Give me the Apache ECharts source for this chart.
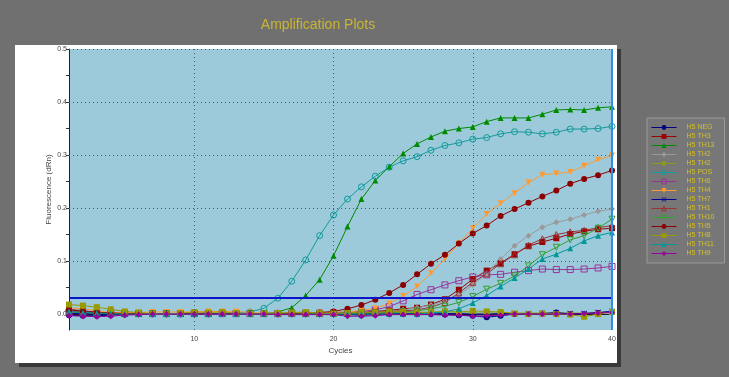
<!DOCTYPE html>
<html>
<head>
<meta charset="utf-8">
<script src="https://cdn.jsdelivr.net/npm/echarts@6/dist/echarts.min.js"></script>
<style>
  html, body { margin: 0; padding: 0; background: #707070; }
  #chart { width: 729px; height: 377px; }
</style>
</head>
<body>
<div id="chart"></div>
<script>
var cycles = [1, 2, 3, 4, 5, 6, 7, 8, 9, 10, 11, 12, 13, 14, 15, 16, 17, 18, 19, 20,
  21, 22, 23, 24, 25, 26, 27, 28, 29, 30, 31, 32, 33, 34, 35, 36, 37, 38, 39, 40];

var yLabels = [0, 0.1, 0.2, 0.3, 0.4, 0.5];
var yTicks = [0, 0.05, 0.1, 0.15, 0.2, 0.25, 0.3, 0.35, 0.4, 0.45, 0.5];
var xGrid = [10, 20, 30];
var threshold = 0.032;

var h5Neg = [-0.002, -0.003, -0.003, -0.002, -0.001, 0.000, 0.000, 0.000, 0.000, 0.000,
  0.000, 0.000, 0.000, 0.000, 0.000, 0.000, 0.000, 0.000, 0.000, 0.000,
  -0.001, -0.002, -0.001, 0.000, 0.000, 0.000, 0.000, -0.001, -0.002, -0.003,
  -0.006, -0.003, 0.000, 0.000, 0.001, 0.003, 0.000, -0.001, 0.002, 0.005];
var h5Th3 = [0.009, 0.006, 0.004, 0.002, 0.001, 0.001, 0.001, 0.001, 0.001, 0.001,
  0.001, 0.001, 0.001, 0.001, 0.001, 0.001, 0.001, 0.002, 0.002, 0.002,
  0.003, 0.003, 0.005, 0.007, 0.010, 0.012, 0.018, 0.028, 0.046, 0.066,
  0.082, 0.096, 0.113, 0.128, 0.136, 0.143, 0.151, 0.156, 0.160, 0.162];
var h5Th13 = [0.003, 0.002, 0.001, 0.001, 0.000, 0.000, 0.000, 0.000, 0.000, 0.000,
  0.000, 0.000, 0.000, 0.001, 0.001, 0.004, 0.012, 0.035, 0.065, 0.110,
  0.165, 0.217, 0.252, 0.278, 0.303, 0.321, 0.334, 0.345, 0.350, 0.353,
  0.363, 0.370, 0.370, 0.370, 0.377, 0.385, 0.386, 0.385, 0.389, 0.391];
var h5Th2 = [0.004, 0.003, 0.002, 0.001, 0.001, 0.001, 0.001, 0.001, 0.001, 0.001,
  0.001, 0.001, 0.001, 0.001, 0.001, 0.001, 0.001, 0.001, 0.002, 0.002,
  0.002, 0.002, 0.003, 0.005, 0.008, 0.012, 0.017, 0.025, 0.036, 0.055,
  0.077, 0.104, 0.129, 0.148, 0.164, 0.173, 0.179, 0.187, 0.194, 0.198];
var h5Th2b = [0.003, 0.002, 0.002, 0.001, 0.001, 0.001, 0.001, 0.001, 0.001, 0.001,
  0.001, 0.001, 0.001, 0.001, 0.001, 0.001, 0.001, 0.001, 0.001, 0.001,
  0.002, 0.002, 0.002, 0.002, 0.002, 0.002, 0.002, 0.002, 0.002, 0.002,
  0.002, 0.002, 0.002, 0.002, 0.002, 0.002, 0.002, 0.002, 0.003, 0.004];
var h5Pos = [0.006, 0.004, 0.003, 0.002, 0.001, 0.001, 0.000, 0.000, 0.000, 0.000,
  0.000, 0.001, 0.002, 0.004, 0.011, 0.030, 0.062, 0.102, 0.148, 0.187,
  0.217, 0.240, 0.260, 0.277, 0.289, 0.297, 0.309, 0.318, 0.323, 0.330,
  0.333, 0.340, 0.344, 0.343, 0.340, 0.343, 0.349, 0.349, 0.350, 0.354];
var h5Th6 = [0.004, 0.003, 0.002, 0.002, 0.001, 0.001, 0.001, 0.001, 0.001, 0.001,
  0.001, 0.001, 0.001, 0.001, 0.001, 0.001, 0.002, 0.002, 0.002, 0.003,
  0.004, 0.005, 0.008, 0.014, 0.025, 0.037, 0.046, 0.055, 0.063, 0.070,
  0.074, 0.075, 0.079, 0.082, 0.085, 0.084, 0.084, 0.085, 0.087, 0.090];
var h5Th4 = [0.012, 0.010, 0.006, 0.003, 0.003, 0.003, 0.004, 0.004, 0.004, 0.004,
  0.005, 0.005, 0.005, 0.003, 0.002, 0.002, 0.002, 0.003, 0.003, 0.003,
  0.004, 0.007, 0.011, 0.020, 0.034, 0.052, 0.077, 0.104, 0.133, 0.162,
  0.189, 0.209, 0.228, 0.248, 0.263, 0.265, 0.268, 0.280, 0.291, 0.299];
var h5Th7 = [0.001, 0.001, 0.000, 0.000, 0.000, 0.000, 0.000, 0.000, 0.000, 0.000,
  0.000, 0.000, 0.000, 0.000, 0.000, 0.000, 0.000, 0.000, 0.000, 0.000,
  0.000, 0.000, 0.002, 0.002, 0.001, 0.001, 0.002, 0.001, 0.001, 0.000,
  0.000, 0.001, 0.001, 0.001, 0.001, 0.002, 0.001, 0.001, 0.003, 0.005];
var h5Th1 = [0.005, 0.004, 0.003, 0.002, 0.001, 0.001, 0.001, 0.001, 0.001, 0.001,
  0.001, 0.001, 0.001, 0.001, 0.001, 0.001, 0.001, 0.001, 0.001, 0.002,
  0.002, 0.003, 0.004, 0.005, 0.006, 0.008, 0.013, 0.022, 0.040, 0.060,
  0.076, 0.095, 0.112, 0.130, 0.142, 0.150, 0.155, 0.158, 0.163, 0.167];
var h5Th10 = [0.004, 0.003, 0.002, 0.001, 0.001, 0.001, 0.001, 0.001, 0.001, 0.001,
  0.001, 0.001, 0.001, 0.001, 0.001, 0.001, 0.001, 0.001, 0.001, 0.001,
  0.002, 0.002, 0.002, 0.003, 0.004, 0.006, 0.010, 0.015, 0.022, 0.033,
  0.047, 0.058, 0.072, 0.091, 0.112, 0.126, 0.140, 0.148, 0.162, 0.179];
var h5Th5 = [0.008, 0.005, 0.003, 0.002, 0.001, 0.001, 0.001, 0.001, 0.001, 0.001,
  0.001, 0.001, 0.001, 0.001, 0.001, 0.001, 0.001, 0.002, 0.003, 0.005,
  0.010, 0.017, 0.027, 0.040, 0.055, 0.075, 0.095, 0.112, 0.133, 0.152,
  0.167, 0.185, 0.198, 0.210, 0.222, 0.233, 0.246, 0.255, 0.262, 0.271];
var h5Th8 = [0.018, 0.016, 0.013, 0.009, 0.005, 0.003, 0.001, 0.000, 0.002, 0.004,
  0.003, 0.004, 0.002, 0.000, 0.001, 0.002, 0.003, 0.004, 0.002, 0.001,
  0.002, 0.004, 0.003, 0.005, 0.004, 0.003, 0.004, 0.005, 0.004, 0.006,
  0.005, 0.004, 0.001, 0.000, 0.001, 0.000, -0.001, -0.005, 0.000, 0.004];
var h5Th11 = [0.005, 0.003, 0.002, 0.001, 0.000, 0.000, 0.000, 0.000, 0.000, 0.000,
  0.000, 0.000, 0.000, 0.000, 0.000, 0.000, 0.000, 0.000, 0.000, 0.000,
  0.000, 0.000, 0.000, 0.000, 0.000, 0.000, 0.002, 0.004, 0.010, 0.021,
  0.035, 0.052, 0.068, 0.085, 0.104, 0.113, 0.124, 0.138, 0.148, 0.154];
var h5Th9 = [-0.003, -0.004, -0.005, -0.004, -0.002, -0.001, 0.000, 0.000, 0.000, 0.000,
  0.000, 0.000, 0.000, 0.000, 0.000, -0.001, -0.001, -0.001, -0.001, -0.001,
  -0.004, -0.004, -0.003, -0.001, -0.001, -0.001, -0.001, -0.002, -0.002, -0.004,
  -0.003, -0.002, 0.000, 0.000, 0.000, 0.000, 0.000, 0.001, 0.002, 0.003];

var xMark = 'path://M0,1L1,0L5,4L9,0L10,1L6,5L10,9L9,10L5,6L1,10L0,9L4,5Z';

// name, values, color, symbol, hollow, rotate, size
var curves = [
  ['H5 NEG', h5Neg, '#000080', 'circle', false, 0, 6],
  ['H5 TH3', h5Th3, '#990000', 'rect', false, 0, 6],
  ['H5 TH13', h5Th13, '#008a00', 'triangle', false, 0, 6],
  ['H5 TH2', h5Th2, '#999999', 'diamond', false, 0, 6],
  ['H5 TH2 ', h5Th2b, '#8c9a1c', 'circle', false, 0, 3],
  ['H5 POS', h5Pos, '#119a9a', 'circle', true, 0, 6],
  ['H5 TH6', h5Th6, '#993399', 'rect', true, 0, 6],
  ['H5 TH4', h5Th4, '#ff9a33', 'triangle', false, 180, 6],
  ['H5 TH7', h5Th7, '#000099', xMark, false, 0, 6],
  ['H5 TH1', h5Th1, '#993333', 'triangle', true, 0, 6],
  ['H5 TH10', h5Th10, '#33a033', 'triangle', true, 180, 6],
  ['H5 TH5', h5Th5, '#8b0000', 'circle', false, 0, 6],
  ['H5 TH8', h5Th8, '#999900', 'rect', false, 0, 6],
  ['H5 TH11', h5Th11, '#009999', 'triangle', false, 0, 6],
  ['H5 TH9', h5Th9, '#990099', 'diamond', false, 0, 6]
];

var myChart = echarts.init(document.getElementById('chart'));

function markStyle(c) {
  return c[4]
    ? { color: 'rgba(157,202,219,0)', borderColor: c[2], borderWidth: 1 }
    : { color: c[2], borderWidth: 0 };
}

var gridLines = [];
yLabels.forEach(function (v) { if (v > 0) gridLines.push({ yAxis: v }); });
xGrid.forEach(function (v) { gridLines.push({ xAxis: v }); });

var series = curves.map(function (c) {
  return {
    name: c[0],
    type: 'line',
    data: cycles.map(function (x, i) { return [x, c[1][i]]; }),
    symbol: c[3],
    symbolSize: c[6],
    symbolRotate: c[5],
    showAllSymbol: true,
    color: c[2],
    lineStyle: { color: c[2], width: 1 },
    itemStyle: markStyle(c),
    emphasis: { disabled: true },
    animation: false
  };
});

series.push({
  type: 'line',
  data: [],
  silent: true,
  markLine: {
    silent: true,
    symbol: 'none',
    label: { show: false },
    animation: false,
    data: gridLines.map(function (g) {
      return Object.assign({ lineStyle: { color: '#4a5a66', type: [1, 3], width: 1 } }, g);
    }).concat([
      { yAxis: threshold, lineStyle: { color: '#0a14c8', type: 'solid', width: 2 } },
      { xAxis: 40, lineStyle: { color: '#2f8fe0', type: 'solid', width: 2 } }
    ])
  }
});

var option = {
  backgroundColor: '#707070',
  animation: false,
  textStyle: { fontFamily: 'Liberation Sans' },
  graphic: [{
    type: 'rect',
    z: -10,
    shape: { x: 15, y: 45, width: 602, height: 318 },
    style: { fill: '#ffffff', shadowColor: '#3a3a3a', shadowOffsetX: 4, shadowOffsetY: 4, shadowBlur: 0 }
  }],
  title: {
    text: 'Amplification Plots',
    left: 313,
    top: 13,
    textAlign: 'center',
    textStyle: { color: '#c9b533', fontSize: 14, fontWeight: 'normal', fontFamily: 'Liberation Sans' }
  },
  legend: {
    orient: 'vertical',
    left: 647,
    top: 118,
    padding: [5, 10, 5, 4],
    itemGap: 0,
    itemWidth: 25,
    itemHeight: 6,
    backgroundColor: '#777777',
    borderColor: '#9a9a9a',
    borderWidth: 1,
    selectedMode: false,
    lineStyle: { width: 1 },
    textStyle: { color: '#d2c02a', fontSize: 7, lineHeight: 9, padding: [0, 0, 0, 5] },
    data: curves.map(function (c) {
      return { name: c[0], itemStyle: markStyle(c) };
    })
  },
  grid: {
    left: 69,
    right: 117,
    top: 49,
    bottom: 47,
    show: true,
    backgroundColor: '#9dcadb',
    borderWidth: 0
  },
  xAxis: {
    type: 'value',
    min: 1,
    max: 40,
    interval: 1,
    name: 'Cycles',
    nameLocation: 'middle',
    nameGap: 17,
    nameMoveOverlap: false,
    nameTextStyle: { color: '#444', fontSize: 8 },
    axisLine: { show: true, lineStyle: { color: '#222', width: 1 } },
    axisTick: { show: true, length: 3, lineStyle: { color: '#333' } },
    axisLabel: {
      color: '#444', fontSize: 7, margin: 6,
      formatter: function (v) { return v % 10 === 0 ? String(v) : ''; }
    },
    splitLine: { show: false }
  },
  yAxis: {
    type: 'value',
    min: -0.03,
    max: 0.5,
    name: 'Fluorescence (dRn)',
    nameLocation: 'middle',
    nameGap: 16,
    nameMoveOverlap: false,
    nameRotate: 90,
    nameTextStyle: { color: '#444', fontSize: 8 },
    axisLine: { show: true, lineStyle: { color: '#222', width: 1 } },
    axisTick: { show: true, length: 3, customValues: yTicks, lineStyle: { color: '#333' } },
    axisLabel: {
      color: '#444', fontSize: 7, margin: 2,
      customValues: yLabels,
      formatter: function (v) { return v.toFixed(1); }
    },
    splitLine: { show: false }
  },
  series: series
};

myChart.setOption(option);
</script>
</body>
</html>
